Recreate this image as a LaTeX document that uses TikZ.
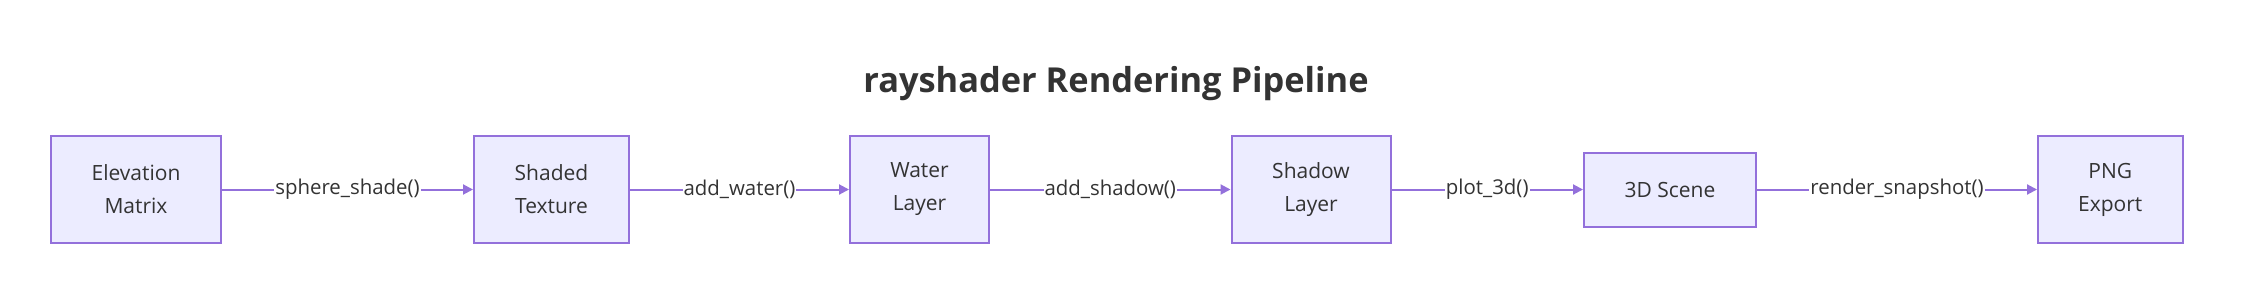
\documentclass[tikz,border=0pt]{standalone}
\usepackage{fontspec}
\setmainfont{Open Sans}
\usepackage{tikz}
\usetikzlibrary{positioning,arrows.meta}
\definecolor{mmfill}{HTML}{ECECFF}
\definecolor{mmborder}{HTML}{9370DB}
\definecolor{mmtext}{HTML}{333333}
\tikzset{
  stage/.style={rectangle, draw=mmborder, fill=mmfill, line width=1pt,
                minimum height=53.5pt, inner sep=0pt, align=center,
                font=\fontsize{10.5}{16.5}\selectfont, text=mmtext},
  flow/.style={-{Triangle[length=5pt, width=5pt]}, line width=1pt, mmborder},
  fn/.style={fill=white, inner sep=0.5pt, font=\fontsize{10.2}{12}\selectfont, text=mmtext},
  ttl/.style={font=\fontsize{17.2}{21}\selectfont\bfseries, text=mmtext}
}

\begin{document}
\begin{tikzpicture}[]
\useasboundingbox (0,0) rectangle (1124pt,148pt);
\node[ttl, anchor=base] (title) at (558pt,101.6pt) {rayshader Rendering Pipeline};
\node[stage, minimum width=85pt, anchor=west] (elev) at (25pt,53.25pt) {Elevation\\Matrix};
\node[stage, minimum width=77.5pt, right=125.5pt of elev] (shaded) {Shaded\\Texture};
\node[stage, minimum width=69.5pt, right=109.5pt of shaded] (water) {Water\\Layer};
\node[stage, minimum width=79.5pt, right=120.25pt of water] (shadow) {Shadow\\Layer};
\node[stage, minimum width=86pt, minimum height=37pt, right=95.75pt of shadow] (scene) {3D Scene};
\node[stage, minimum width=72.25pt, right=140pt of scene] (png) {PNG\\Export};
\draw[flow] (elev) -- node[fn] {sphere\_shade()} (shaded);
\draw[flow] (shaded) -- node[fn] {add\_water()} (water);
\draw[flow] (water) -- node[fn] {add\_shadow()} (shadow);
\draw[flow] (shadow) -- node[fn] {plot\_3d()} (scene);
\draw[flow] (scene) -- node[fn] {render\_snapshot()} (png);
\end{tikzpicture}
\end{document}
